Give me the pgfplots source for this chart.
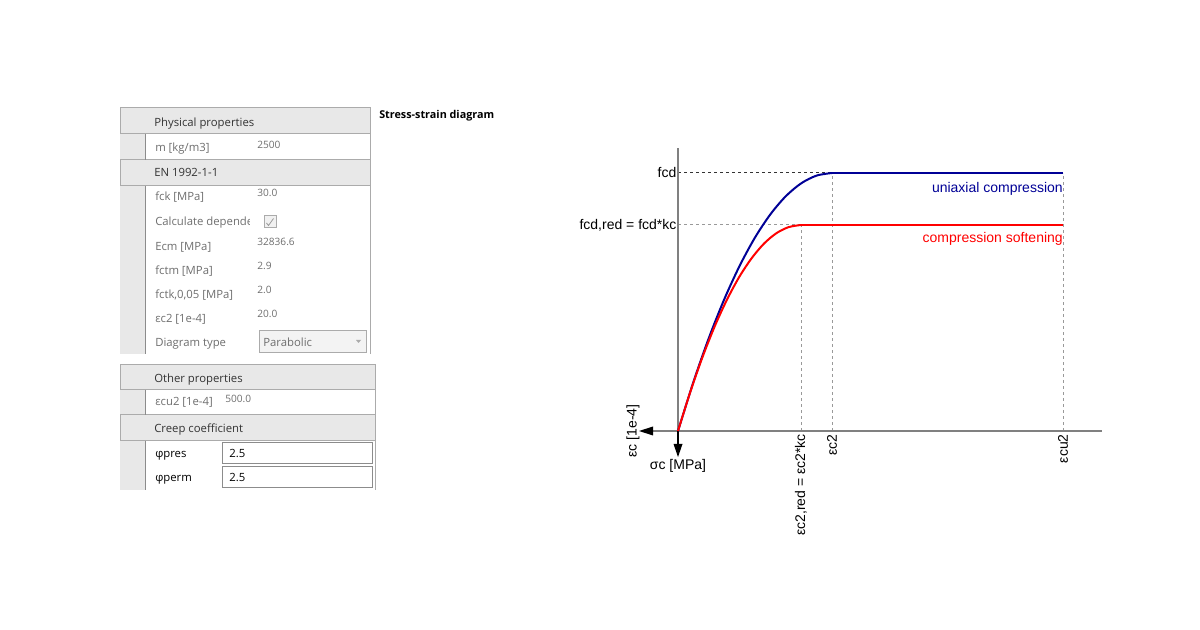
\documentclass[border=0pt]{standalone}
\usepackage{fontspec}
\setmainfont{Open Sans}
\newfontfamily\arialf{Liberation Sans}
\usepackage{pgfplots}
\pgfplotsset{compat=1.18}
\definecolor{hdr}{HTML}{E8E8E8}
\definecolor{brd}{HTML}{ABABAB}
\definecolor{gut}{HTML}{8C8C8C}
\definecolor{lbl}{HTML}{6E6E6E}
\definecolor{htx}{HTML}{333333}
\definecolor{navyc}{RGB}{0,0,150}
\definecolor{axg}{HTML}{808080}
\definecolor{dg}{HTML}{999999}
\newcommand\tf{\fontsize{8.5}{10}\selectfont}
\newcommand\vf{\fontsize{7.6}{9}\selectfont}
\newcommand\af{\arialf\fontsize{10.5}{12}\selectfont}
\newcommand\lab[3]{\node[anchor=base west,inner sep=0,text=lbl,font=\tf] at (#1,#2) {#3};}
\newcommand\val[3]{\node[anchor=base west,inner sep=0,text=lbl,font=\vf] at (#1,#2) {#3};}
\newcommand\hd[3]{\node[anchor=base west,inner sep=0,text=htx,font=\tf] at (#1,#2) {#3};}
\begin{document}
\begin{tikzpicture}[x=0.75pt,y=-0.75pt]
\path[use as bounding box] (0,0) rectangle (1200,630);
% ---- section 1
\fill[hdr] (120,108) rectangle (145,354);
\filldraw[fill=hdr,draw=brd,line width=0.75pt] (120,108) rectangle (370,134);
\filldraw[fill=hdr,draw=brd,line width=0.75pt] (120,160) rectangle (370,186);
\draw[brd,line width=0.75pt] (370,134) -- (370,160) (370,186) -- (370,354);
\draw[gut,line width=0.75pt] (145,134) -- (145,160) (145,186) -- (145,354);
\hd{154}{127}{Physical properties}
\lab{155}{152}{m [kg/m3]}
\val{257}{149}{2500}
\hd{154}{177}{EN 1992-1-1}
\lab{155}{201}{fck [MPa]}
\val{257}{197}{30.0}
\begin{scope}
\clip (150,210) rectangle (249,235);
\lab{155}{226}{Calculate dependent}
\end{scope}
\filldraw[fill=hdr!60,draw=brd,line width=0.75pt] (264,216) rectangle (276,228);
\draw[dg,line width=0.6pt] (266.5,223) -- (268.5,225.5) -- (273.5,218.5);
\lab{155}{251}{Ecm [MPa]}
\val{257}{246}{32836.6}
\lab{155}{275}{fctm [MPa]}
\val{257}{270}{2.9}
\lab{155}{299}{fctk,0,05 [MPa]}
\val{257}{294}{2.0}
\lab{155}{323}{εc2 [1e-4]}
\val{257}{318}{20.0}
\lab{155}{347}{Diagram type}
\filldraw[fill=hdr!50,draw=brd,line width=0.75pt] (259,331) rectangle (366,353);
\node[anchor=base west,inner sep=0,text=lbl,font=\tf] at (263,347) {Parabolic};
\fill[brd] (356,340) -- (361,340) -- (358.5,343) -- cycle;
% ---- section 2
\fill[hdr] (120,365) rectangle (145,490);
\filldraw[fill=hdr,draw=brd,line width=0.75pt] (120,365) rectangle (375,390);
\filldraw[fill=hdr,draw=brd,line width=0.75pt] (120,415) rectangle (375,441);
\draw[brd,line width=0.75pt] (375,390) -- (375,415) (375,441) -- (375,490);
\draw[gut,line width=0.75pt] (145,390) -- (145,415) (145,441) -- (145,490);
\hd{154}{383}{Other properties}
\lab{155}{406}{εcu2 [1e-4]}
\val{225}{403}{500.0}
\hd{154}{433}{Creep coefficient}
\draw[gut,line width=0.75pt,fill=white] (222,443) rectangle (372,464);
\draw[gut,line width=0.75pt,fill=white] (222,467) rectangle (372,488);
\node[anchor=base west,inner sep=0,text=black,font=\tf] at (155,458) {φpres};
\node[anchor=base west,inner sep=0,text=black,font=\tf] at (229,458) {2.5};
\node[anchor=base west,inner sep=0,text=black,font=\tf] at (155,482) {φperm};
\node[anchor=base west,inner sep=0,text=black,font=\tf] at (229,482) {2.5};
% ---- title
\node[anchor=base west,inner sep=0,font=\bfseries\fontsize{8.1}{9}\selectfont] at (379,119) {Stress-strain diagram};
% ---- chart
\begin{axis}[at={(0pt,-472.5pt)},anchor=south west,x=0.75pt,y=0.75pt,
  xmin=-678,xmax=522,ymin=-199,ymax=431,hide axis,clip=false]
% reference lines
\addplot[black!80,line width=0.75pt,dash pattern=on 2.25pt off 2.25pt] coordinates {(0,258) (154,258)};
\addplot[dg,line width=0.75pt,dash pattern=on 2.25pt off 2.25pt] coordinates {(0,206) (123,206)};
\addplot[dg,line width=0.75pt,dash pattern=on 2.25pt off 2.25pt] coordinates {(123,0) (123,206)};
\addplot[dg,line width=0.75pt,dash pattern=on 2.25pt off 2.25pt] coordinates {(154,0) (154,258)};
\addplot[dg,line width=0.75pt,dash pattern=on 2.25pt off 2.25pt] coordinates {(385,0) (385,258)};
% axes
\addplot[axg,line width=1.5pt] coordinates {(-26,0) (424,0)};
\addplot[axg,line width=1.5pt] coordinates {(0,0) (0,283)};
\addplot[black,line width=1.1pt] coordinates {(0,0) (0,-15)};
\fill[black] (axis cs:-39,0) -- (axis cs:-25,4.5) -- (axis cs:-25,-4.5) -- cycle;
\fill[black] (axis cs:0,-26) -- (axis cs:-4.5,-13) -- (axis cs:4.5,-13) -- cycle;
% curves
\addplot[navyc,line width=1.5pt,smooth] coordinates {
(0,0) (15.4,49.0) (30.8,92.9) (46.2,131.6) (61.6,165.1) (77,193.5)
(92.4,216.7) (107.8,234.8) (123.2,247.7) (138.6,255.4) (154,258)};
\addplot[navyc,line width=1.5pt] coordinates {(154,258) (385,258)};
\addplot[red,line width=1.5pt,smooth] coordinates {
(0,0) (12.3,39.1) (24.6,74.2) (36.9,105.1) (49.2,131.8) (61.5,154.5)
(73.8,173.0) (86.1,187.5) (98.4,197.8) (110.7,203.9) (123,206)};
\addplot[red,line width=1.5pt] coordinates {(123,206) (385,206)};
% labels
\node[font=\af,anchor=east,inner sep=1pt] at (axis cs:0,258) {fcd};
\node[font=\af,anchor=east,inner sep=1pt] at (axis cs:0,206) {fcd,red = fcd*kc};
\node[font=\af,anchor=east,inner sep=0pt,text=navyc] at (axis cs:385,242.5) {uniaxial compression};
\node[font=\af,anchor=east,inner sep=0pt,text=red] at (axis cs:385,192.5) {compression softening};
\node[font=\af,anchor=east,rotate=90,inner sep=0pt] at (axis cs:123,-3) {εc2,red = εc2*kc};
\node[font=\af,anchor=east,rotate=90,inner sep=0pt] at (axis cs:154,-3) {εc2};
\node[font=\af,anchor=east,rotate=90,inner sep=0pt] at (axis cs:385,-3) {εcu2};
\node[font=\af,rotate=90,inner sep=0pt] at (axis cs:-45,0) {εc [1e-4]};
\node[font=\af,inner sep=0pt] at (axis cs:0,-35) {σc [MPa]};
\end{axis}
\end{tikzpicture}
\end{document}
